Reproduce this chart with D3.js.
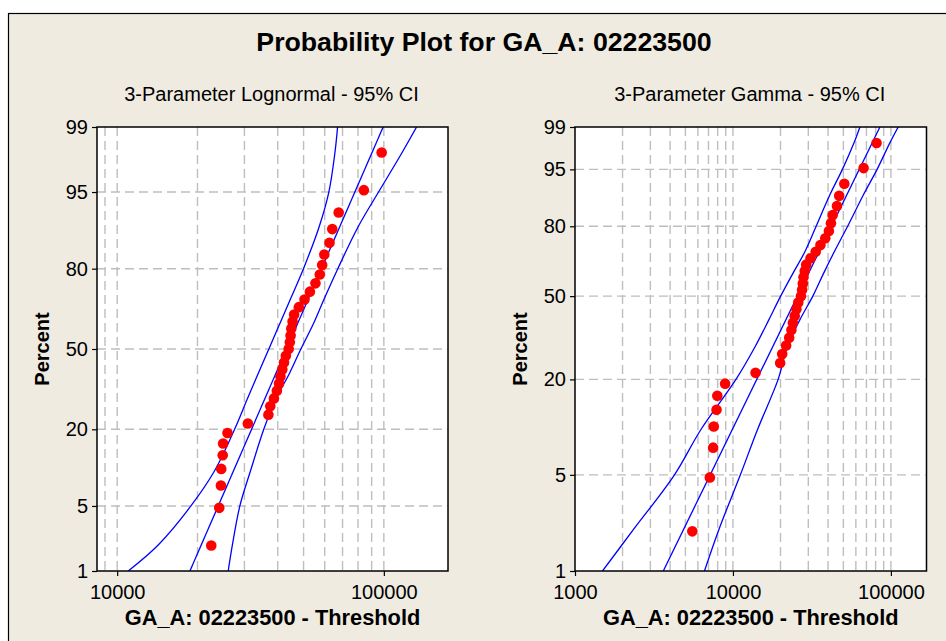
<!DOCTYPE html>
<html>
<head>
<meta charset="utf-8">
<script src="https://cdn.jsdelivr.net/npm/d3@7"></script>
<style>
html, body { margin: 0; padding: 0; background: #ffffff; }
svg { display: block; }
</style>
</head>
<body>
<svg id="chart" width="946" height="641"></svg>
<script>
// ---------------- DATA ----------------
// Annual peak flows (sorted), station GA_A: 02223500
const peakFlows = [21030, 22640, 22990, 23060, 23370, 23460, 24420, 29400, 35400, 36000,
                   37200, 38200, 38950, 39450, 40100, 40720, 41400, 42450, 42900, 43200,
                   43470, 43970, 44580, 46480, 48900, 51300, 53900, 56000, 57210, 58300,
                   61050, 62550, 66200, 82650, 96620];
const thresholdLognormal = -1500;
const thresholdGamma = 15500;
const gammaShape = 2.7;

const percentTicks = [1, 5, 20, 50, 80, 95, 99];
const percentGridLines = [5, 20, 50, 80, 95];

// Fitted lines and 95% confidence bands (values are "data - threshold")
const fitPercents = [1, 99];
const lognormalFit = [18735, 99400];
const gammaFit = [3622, 85200];

const bandPercents = [1, 2, 5, 10, 20, 30, 40, 50, 60, 70, 80, 90, 95, 98, 99];
const lognormalLower = [11000, 14250, 18900, 23130, 27560, 30750, 33830, 37050, 40540, 44650, 49950, 57200, 62190, 65520, 67060];
const lognormalUpper = [26080, 27040, 28840, 31580, 35460, 39320, 44300, 48840, 54200, 59700, 67200, 80100, 95520, 116800, 132650];
const gammaLower = [1493, 2315, 4263, 6271, 10447, 13860, 16900, 20040, 23870, 28640, 33620, 41280, 49320, 58240, 63650];
const gammaUpper = [6601, 8095, 11140, 14310, 19320, 22160, 26550, 32040, 37340, 43960, 53200, 67370, 81770, 98120, 111230];

const leftXTicks = [10000, 100000];
const rightXTicks = [1000, 10000, 100000];
const leftXGrid = [9000, 10000, 20000, 30000, 40000, 50000, 60000, 70000, 80000, 90000, 100000];
const rightXGrid = [2000, 3000, 4000, 5000, 6000, 7000, 8000, 9000, 10000, 20000, 30000, 40000, 50000, 60000, 70000, 80000, 90000, 100000];

const titleText = "Probability Plot for GA_A: 02223500";
const leftSubtitle = "3-Parameter Lognormal - 95% CI";
const rightSubtitle = "3-Parameter Gamma - 95% CI";
const xAxisTitle = "GA_A: 02223500 - Threshold";
const yAxisTitle = "Percent";

// ---------------- MATH HELPERS ----------------
function probit(p) {
  const a = [-3.969683028665376e+01, 2.209460984245205e+02, -2.759285104469687e+02, 1.383577518672690e+02, -3.066479806614716e+01, 2.506628277459239e+00];
  const b = [-5.447609879822406e+01, 1.615858368580409e+02, -1.556989798598866e+02, 6.680131188771972e+01, -1.328068155288572e+01];
  const c = [-7.784894002430293e-03, -3.223964580411365e-01, -2.400758277161838e+00, -2.549732539343734e+00, 4.374664141464968e+00, 2.938163982698783e+00];
  const d = [7.784695709041462e-03, 3.224671290700398e-01, 2.445134137142996e+00, 3.754408661907416e+00];
  const pl = 0.02425, ph = 1 - pl;
  let q, r;
  if (p < pl) {
    q = Math.sqrt(-2 * Math.log(p));
    return (((((c[0]*q+c[1])*q+c[2])*q+c[3])*q+c[4])*q+c[5]) / ((((d[0]*q+d[1])*q+d[2])*q+d[3])*q+1);
  } else if (p <= ph) {
    q = p - 0.5; r = q*q;
    return (((((a[0]*r+a[1])*r+a[2])*r+a[3])*r+a[4])*r+a[5])*q / (((((b[0]*r+b[1])*r+b[2])*r+b[3])*r+b[4])*r+1);
  } else {
    q = Math.sqrt(-2 * Math.log(1 - p));
    return -(((((c[0]*q+c[1])*q+c[2])*q+c[3])*q+c[4])*q+c[5]) / ((((d[0]*q+d[1])*q+d[2])*q+d[3])*q+1);
  }
}
function lnGamma(z) {
  const g = 7;
  const coef = [0.99999999999980993, 676.5203681218851, -1259.1392167224028, 771.32342877765313,
    -176.61502916214059, 12.507343278686905, -0.13857109526572012, 9.9843695780195716e-6, 1.5056327351493116e-7];
  if (z < 0.5) return Math.log(Math.PI / Math.sin(Math.PI * z)) - lnGamma(1 - z);
  z -= 1;
  let s = coef[0];
  for (let i = 1; i < g + 2; i++) s += coef[i] / (z + i);
  const t = z + g + 0.5;
  return 0.5 * Math.log(2 * Math.PI) + (z + 0.5) * Math.log(t) - t + Math.log(s);
}
function gammaP(a, xv) {
  if (xv <= 0) return 0;
  const lnPre = -xv + a * Math.log(xv) - lnGamma(a);
  if (xv < a + 1) {
    let ap = a, sum = 1 / a, del = sum;
    for (let k = 0; k < 500; k++) {
      ap += 1; del *= xv / ap; sum += del;
      if (Math.abs(del) < Math.abs(sum) * 1e-14) break;
    }
    return sum * Math.exp(lnPre);
  } else {
    const tiny = 1e-300;
    let b = xv + 1 - a, c = 1 / tiny, dd = 1 / b, h = dd;
    for (let i = 1; i < 500; i++) {
      const an = -i * (i - a);
      b += 2;
      dd = an * dd + b; if (Math.abs(dd) < tiny) dd = tiny;
      c = b + an / c; if (Math.abs(c) < tiny) c = tiny;
      dd = 1 / dd;
      const del = dd * c;
      h *= del;
      if (Math.abs(del - 1) < 1e-14) break;
    }
    return 1 - Math.exp(lnPre) * h;
  }
}
function gammaQuantileLog(p, a) {
  let lo = -30, hi = 6;
  for (let i = 0; i < 120; i++) {
    const mid = (lo + hi) / 2;
    if (gammaP(a, Math.exp(mid)) < p) lo = mid; else hi = mid;
  }
  return (lo + hi) / 2;
}

// ---------------- LAYOUT ----------------
const svg = d3.select("#chart");
const FONT = "'Liberation Sans', Arial, sans-serif";
const bgColor = "#EFEBE1";

svg.append("rect").attr("x", 0).attr("y", 0).attr("width", 946).attr("height", 641).attr("fill", "#ffffff");
svg.append("rect").attr("x", 8.5).attr("y", 13.5).attr("width", 1000).attr("height", 700)
  .attr("fill", bgColor).attr("stroke", "#000").attr("stroke-width", 1.2);

svg.append("text").attr("x", 484).attr("y", 51).attr("text-anchor", "middle")
  .attr("font-family", FONT).attr("font-weight", "bold").attr("font-size", 26.7)
  .attr("fill", "#000").text(titleText);

const nObs = peakFlows.length;
const plotPercents = peakFlows.map((d, i) => 100 * (i + 1 - 0.3) / (nObs + 0.4));

const panels = [
  {
    id: "ln", left: 97, right: 448, subtitle: leftSubtitle,
    xDomain: [8400, 174000], xTicks: leftXTicks, xGrid: leftXGrid,
    transform: p => probit(p / 100),
    threshold: thresholdLognormal, fit: lognormalFit, lower: lognormalLower, upper: lognormalUpper,
    yTitleX: 49
  },
  {
    id: "gm", left: 575, right: 926.5, subtitle: rightSubtitle,
    xDomain: [1000, 168000], xTicks: rightXTicks, xGrid: rightXGrid,
    transform: p => gammaQuantileLog(p / 100, gammaShape),
    threshold: thresholdGamma, fit: gammaFit, lower: gammaLower, upper: gammaUpper,
    yTitleX: 527
  }
];

const plotTop = 127, plotBottom = 571;

panels.forEach(P => {
  const x = d3.scaleLog().domain(P.xDomain).range([P.left, P.right]);
  const y = d3.scaleLinear().domain([P.transform(1), P.transform(99)]).range([plotBottom, plotTop]);
  const yp = p => y(P.transform(p));
  const g = svg.append("g");
  const cx = (P.left + P.right) / 2;
  const w = P.right - P.left, h = plotBottom - plotTop;

  g.append("text").attr("x", cx - 1).attr("y", 101).attr("text-anchor", "middle")
    .attr("font-family", FONT).attr("font-size", 20).attr("fill", "#000").text(P.subtitle);

  g.append("rect").attr("x", P.left).attr("y", plotTop).attr("width", w).attr("height", h).attr("fill", "#fff");

  const clipId = "clip-" + P.id;
  svg.append("clipPath").attr("id", clipId).append("rect")
    .attr("x", P.left).attr("y", plotTop).attr("width", w).attr("height", h);

  // gridlines
  const grid = g.append("g").attr("stroke", "#BEBEBE").attr("stroke-width", 1.4).attr("stroke-dasharray", "9,5");
  grid.selectAll("line.v").data(P.xGrid).join("line").attr("class", "v")
    .attr("x1", d => x(d)).attr("x2", d => x(d)).attr("y1", plotTop).attr("y2", plotBottom);
  grid.selectAll("line.h").data(percentGridLines).join("line").attr("class", "h")
    .attr("x1", P.left).attr("x2", P.right).attr("y1", d => yp(d)).attr("y2", d => yp(d));

  // fitted line and confidence bands
  const curveGen = d3.line().x(d => x(d.v)).y(d => yp(d.p)).curve(d3.curveCatmullRom.alpha(0.5));
  const straight = d3.line().x(d => x(d.v)).y(d => yp(d.p));
  const lines = g.append("g").attr("clip-path", `url(#${clipId})`)
    .attr("fill", "none").attr("stroke", "#0000FF").attr("stroke-width", 1.3);
  lines.append("path").attr("d", straight(fitPercents.map((p, i) => ({ p, v: P.fit[i] }))));
  lines.append("path").attr("d", curveGen(bandPercents.map((p, i) => ({ p, v: P.lower[i] }))));
  lines.append("path").attr("d", curveGen(bandPercents.map((p, i) => ({ p, v: P.upper[i] }))));

  // points
  g.append("g").attr("clip-path", `url(#${clipId})`).selectAll("circle")
    .data(peakFlows.map((v, i) => ({ v: v - P.threshold, p: plotPercents[i] })))
    .join("circle").attr("cx", d => x(d.v)).attr("cy", d => yp(d.p)).attr("r", 5.3).attr("fill", "#FF0000");

  // frame
  g.append("rect").attr("x", P.left).attr("y", plotTop).attr("width", w).attr("height", h)
    .attr("fill", "none").attr("stroke", "#000").attr("stroke-width", 1.5);

  // y axis
  const yAxis = d3.axisLeft(y).tickValues(percentTicks.map(P.transform))
    .tickFormat((d, i) => String(percentTicks[i])).tickSize(5).tickSizeOuter(0).tickPadding(4);
  const ya = g.append("g").attr("transform", `translate(${P.left},0)`).call(yAxis);
  ya.select(".domain").remove();
  ya.selectAll("text").attr("font-family", FONT).attr("font-size", 20).attr("fill", "#000");
  ya.selectAll("line").attr("stroke", "#000").attr("stroke-width", 1.2);

  // x axis
  const xAxis = d3.axisBottom(x).tickValues(P.xTicks).tickFormat(d3.format("d")).tickSize(5).tickSizeOuter(0).tickPadding(9);
  const xa = g.append("g").attr("transform", `translate(0,${plotBottom})`).call(xAxis);
  xa.select(".domain").remove();
  xa.selectAll("text").attr("font-family", FONT).attr("font-size", 20).attr("fill", "#000");
  xa.selectAll("line").attr("stroke", "#000").attr("stroke-width", 1.2);

  g.append("text").attr("x", cx).attr("y", 625).attr("text-anchor", "middle")
    .attr("font-family", FONT).attr("font-weight", "bold").attr("font-size", 21.8).attr("fill", "#000")
    .text(xAxisTitle);

  g.append("text").attr("transform", `translate(${P.yTitleX},349) rotate(-90)`).attr("text-anchor", "middle")
    .attr("font-family", FONT).attr("font-weight", "bold").attr("font-size", 20).attr("fill", "#000")
    .text(yAxisTitle);
});
</script>
</body>
</html>
